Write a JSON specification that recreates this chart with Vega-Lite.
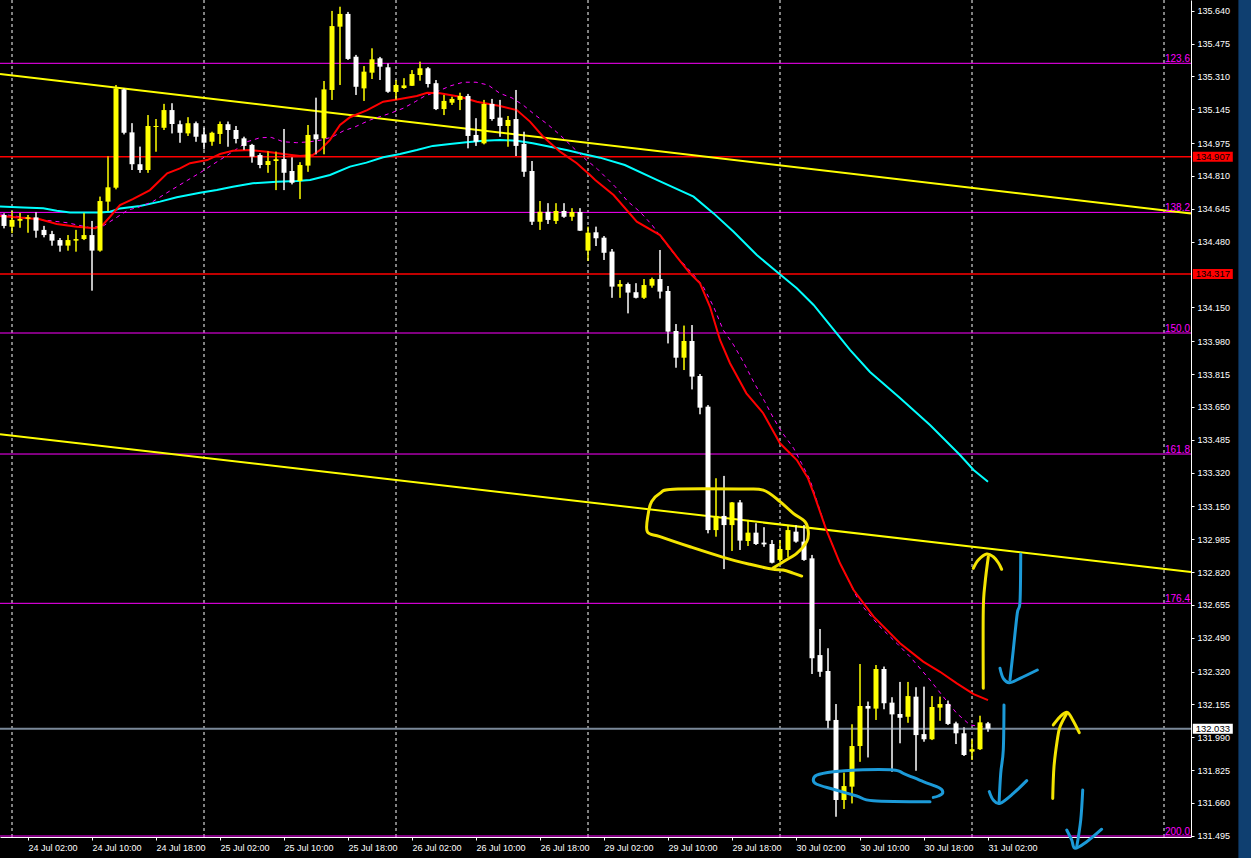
{
"$schema": "https://vega.github.io/schema/vega-lite/v6.json",
"width": 1191, "height": 837,
"autosize": {"type": "none"},
"padding": {"left": 0, "top": 0, "right": 60, "bottom": 21},
"background": "#000000",
"config": {"view": {"stroke": null},
 "axis": {"grid": false, "titleOpacity": 0, "titlePadding": 100, "labelOverlap": false, "labelBound": false, "labelFlush": false, "labelFont": "Liberation Sans", "labelFontSize": 9, "labelColor": "#ffffff", "domainColor": "#ffffff", "tickColor": "#ffffff"}},
"datasets": {
"seps": [{"i":0},{"i":24},{"i":48},{"i":72},{"i":96},{"i":120},{"i":144}],
"hl": [{"p":135.376,"k":"fib","t":"123.6"},{"p":134.627,"k":"fib","t":"138.2"},{"p":134.021,"k":"fib","t":"150.0"},{"p":133.413,"k":"fib","t":"161.8"},{"p":132.663,"k":"fib","t":"176.4"},{"p":131.494,"k":"fib","t":"200.0"},{"p":134.907,"k":"red","t":"134.907"},{"p":134.317,"k":"red","t":"134.317"},{"p":132.033,"k":"bid","t":"132.033"}],
"trends": [{"g":"up","i":-1.5,"p":135.322},{"g":"up","i":147.375,"p":134.621},{"g":"lo","i":-1.5,"p":133.513},{"g":"lo","i":147.375,"p":132.820}],
"candles": [
{"i":-1,"o":134.614,"h":134.622,"l":134.547,"c":134.559},
{"i":0,"o":134.555,"h":134.634,"l":134.523,"c":134.589},
{"i":1,"o":134.585,"h":134.624,"l":134.550,"c":134.594},
{"i":2,"o":134.595,"h":134.614,"l":134.525,"c":134.602},
{"i":3,"o":134.602,"h":134.629,"l":134.500,"c":134.535},
{"i":4,"o":134.539,"h":134.559,"l":134.502,"c":134.513},
{"i":5,"o":134.518,"h":134.534,"l":134.460,"c":134.485},
{"i":6,"o":134.488,"h":134.498,"l":134.430,"c":134.460},
{"i":7,"o":134.460,"h":134.513,"l":134.435,"c":134.488},
{"i":8,"o":134.485,"h":134.539,"l":134.430,"c":134.493},
{"i":9,"o":134.493,"h":134.625,"l":134.488,"c":134.513},
{"i":10,"o":134.513,"h":134.584,"l":134.234,"c":134.435},
{"i":11,"o":134.435,"h":134.706,"l":134.430,"c":134.684},
{"i":12,"o":134.681,"h":134.910,"l":134.634,"c":134.753},
{"i":13,"o":134.751,"h":135.267,"l":134.743,"c":135.250},
{"i":14,"o":135.245,"h":135.250,"l":135.019,"c":135.027},
{"i":15,"o":135.029,"h":135.075,"l":134.840,"c":134.869},
{"i":16,"o":134.869,"h":134.957,"l":134.826,"c":134.840},
{"i":17,"o":134.840,"h":135.116,"l":134.826,"c":135.061},
{"i":18,"o":135.056,"h":135.096,"l":134.932,"c":135.061},
{"i":19,"o":135.052,"h":135.172,"l":135.041,"c":135.141},
{"i":20,"o":135.141,"h":135.175,"l":135.024,"c":135.071},
{"i":21,"o":135.070,"h":135.088,"l":134.977,"c":135.027},
{"i":22,"o":135.024,"h":135.105,"l":135.011,"c":135.075},
{"i":23,"o":135.075,"h":135.083,"l":134.982,"c":135.007},
{"i":24,"o":135.019,"h":135.052,"l":134.944,"c":134.977},
{"i":25,"o":134.982,"h":135.032,"l":134.962,"c":135.027},
{"i":26,"o":135.021,"h":135.083,"l":134.971,"c":135.071},
{"i":27,"o":135.070,"h":135.083,"l":134.957,"c":135.041},
{"i":28,"o":135.041,"h":135.061,"l":134.974,"c":134.996},
{"i":29,"o":134.999,"h":135.007,"l":134.940,"c":134.961},
{"i":30,"o":134.966,"h":134.971,"l":134.877,"c":134.907},
{"i":31,"o":134.915,"h":134.924,"l":134.849,"c":134.865},
{"i":32,"o":134.865,"h":134.935,"l":134.826,"c":134.885},
{"i":33,"o":134.885,"h":134.932,"l":134.739,"c":134.894},
{"i":34,"o":134.895,"h":135.046,"l":134.739,"c":134.826},
{"i":35,"o":134.835,"h":134.904,"l":134.768,"c":134.776},
{"i":36,"o":134.785,"h":134.879,"l":134.694,"c":134.865},
{"i":37,"o":134.862,"h":135.066,"l":134.831,"c":135.016},
{"i":38,"o":135.019,"h":135.203,"l":134.919,"c":134.994},
{"i":39,"o":134.999,"h":135.287,"l":134.919,"c":135.245},
{"i":40,"o":135.242,"h":135.639,"l":135.192,"c":135.563},
{"i":41,"o":135.560,"h":135.660,"l":135.267,"c":135.624},
{"i":42,"o":135.624,"h":135.634,"l":135.393,"c":135.398},
{"i":43,"o":135.409,"h":135.418,"l":135.217,"c":135.258},
{"i":44,"o":135.250,"h":135.362,"l":135.187,"c":135.334},
{"i":45,"o":135.329,"h":135.451,"l":135.297,"c":135.396},
{"i":46,"o":135.401,"h":135.408,"l":135.292,"c":135.359},
{"i":47,"o":135.356,"h":135.376,"l":135.228,"c":135.233},
{"i":48,"o":135.232,"h":135.292,"l":135.192,"c":135.267},
{"i":49,"o":135.252,"h":135.301,"l":135.248,"c":135.265},
{"i":50,"o":135.263,"h":135.342,"l":135.262,"c":135.322},
{"i":51,"o":135.317,"h":135.384,"l":135.289,"c":135.351},
{"i":52,"o":135.351,"h":135.357,"l":135.255,"c":135.272},
{"i":53,"o":135.276,"h":135.292,"l":135.141,"c":135.146},
{"i":54,"o":135.146,"h":135.217,"l":135.116,"c":135.187},
{"i":55,"o":135.178,"h":135.208,"l":135.167,"c":135.197},
{"i":56,"o":135.192,"h":135.228,"l":135.141,"c":135.212},
{"i":57,"o":135.212,"h":135.222,"l":134.949,"c":135.011},
{"i":58,"o":135.016,"h":135.100,"l":134.961,"c":134.982},
{"i":59,"o":134.974,"h":135.192,"l":134.969,"c":135.172},
{"i":60,"o":135.172,"h":135.197,"l":135.088,"c":135.096},
{"i":61,"o":135.103,"h":135.192,"l":135.007,"c":135.061},
{"i":62,"o":135.061,"h":135.111,"l":134.957,"c":135.091},
{"i":63,"o":135.096,"h":135.242,"l":134.910,"c":134.961},
{"i":64,"o":134.971,"h":135.032,"l":134.806,"c":134.831},
{"i":65,"o":134.835,"h":134.885,"l":134.564,"c":134.580},
{"i":66,"o":134.580,"h":134.684,"l":134.539,"c":134.630},
{"i":67,"o":134.630,"h":134.673,"l":134.569,"c":134.589},
{"i":68,"o":134.584,"h":134.673,"l":134.569,"c":134.634},
{"i":69,"o":134.634,"h":134.673,"l":134.600,"c":134.605},
{"i":70,"o":134.605,"h":134.648,"l":134.585,"c":134.629},
{"i":71,"o":134.629,"h":134.648,"l":134.534,"c":134.535},
{"i":72,"o":134.435,"h":134.555,"l":134.383,"c":134.525},
{"i":73,"o":134.527,"h":134.555,"l":134.458,"c":134.497},
{"i":74,"o":134.500,"h":134.508,"l":134.388,"c":134.424},
{"i":75,"o":134.430,"h":134.443,"l":134.198,"c":134.254},
{"i":76,"o":134.254,"h":134.287,"l":134.198,"c":134.267},
{"i":77,"o":134.267,"h":134.274,"l":134.120,"c":134.224},
{"i":78,"o":134.226,"h":134.271,"l":134.195,"c":134.198},
{"i":79,"o":134.198,"h":134.292,"l":134.192,"c":134.262},
{"i":80,"o":134.259,"h":134.299,"l":134.249,"c":134.292},
{"i":81,"o":134.292,"h":134.438,"l":134.195,"c":134.229},
{"i":82,"o":134.232,"h":134.257,"l":133.969,"c":134.028},
{"i":83,"o":134.031,"h":134.066,"l":133.847,"c":133.897},
{"i":84,"o":133.897,"h":134.058,"l":133.835,"c":133.981},
{"i":85,"o":133.981,"h":134.061,"l":133.738,"c":133.802},
{"i":86,"o":133.805,"h":133.815,"l":133.613,"c":133.646},
{"i":87,"o":133.651,"h":133.659,"l":133.015,"c":133.031},
{"i":88,"o":133.031,"h":133.291,"l":132.998,"c":133.102},
{"i":89,"o":133.102,"h":133.303,"l":132.835,"c":133.056},
{"i":90,"o":133.056,"h":133.172,"l":132.926,"c":133.170},
{"i":91,"o":133.170,"h":133.182,"l":132.931,"c":132.978},
{"i":92,"o":132.976,"h":133.082,"l":132.951,"c":133.018},
{"i":93,"o":133.018,"h":133.065,"l":132.956,"c":132.961},
{"i":94,"o":132.968,"h":133.045,"l":132.947,"c":132.959},
{"i":95,"o":132.961,"h":132.981,"l":132.864,"c":132.867},
{"i":96,"o":132.881,"h":132.981,"l":132.872,"c":132.936},
{"i":97,"o":132.931,"h":133.056,"l":132.894,"c":133.031},
{"i":98,"o":133.023,"h":133.056,"l":132.968,"c":132.973},
{"i":99,"o":132.973,"h":133.056,"l":132.877,"c":132.881},
{"i":100,"o":132.889,"h":132.906,"l":132.308,"c":132.387},
{"i":101,"o":132.403,"h":132.534,"l":132.294,"c":132.319},
{"i":102,"o":132.323,"h":132.437,"l":132.035,"c":132.073},
{"i":103,"o":132.077,"h":132.157,"l":131.591,"c":131.675},
{"i":104,"o":131.675,"h":131.812,"l":131.630,"c":131.745},
{"i":105,"o":131.742,"h":132.055,"l":131.658,"c":131.946},
{"i":106,"o":131.946,"h":132.358,"l":131.867,"c":132.147},
{"i":107,"o":132.147,"h":132.169,"l":131.889,"c":132.134},
{"i":108,"o":132.134,"h":132.353,"l":132.077,"c":132.333},
{"i":109,"o":132.333,"h":132.345,"l":132.131,"c":132.161},
{"i":110,"o":132.164,"h":132.191,"l":131.817,"c":132.105},
{"i":111,"o":132.107,"h":132.268,"l":131.960,"c":132.088},
{"i":112,"o":132.093,"h":132.268,"l":132.063,"c":132.197},
{"i":113,"o":132.194,"h":132.241,"l":131.822,"c":132.001},
{"i":114,"o":132.006,"h":132.244,"l":131.968,"c":131.980},
{"i":115,"o":131.980,"h":132.197,"l":131.976,"c":132.142},
{"i":116,"o":132.139,"h":132.194,"l":132.073,"c":132.157},
{"i":117,"o":132.157,"h":132.174,"l":132.052,"c":132.057},
{"i":118,"o":132.060,"h":132.068,"l":131.956,"c":132.010},
{"i":119,"o":132.010,"h":132.040,"l":131.896,"c":131.901},
{"i":120,"o":131.918,"h":131.980,"l":131.876,"c":131.930},
{"i":121,"o":131.930,"h":132.098,"l":131.926,"c":132.065},
{"i":122,"o":132.060,"h":132.067,"l":132.018,"c":132.033}],
"red": [{"i":-1.5,"p":134.609},{"i":3.5,"p":134.592},{"i":5.6,"p":134.569},{"i":8.1,"p":134.555},{"i":10.4,"p":134.547},{"i":11.4,"p":134.567},{"i":12.25,"p":134.605},{"i":13.5,"p":134.664},{"i":15.1,"p":134.694},{"i":17.25,"p":134.739},{"i":19.4,"p":134.823},{"i":21,"p":134.848},{"i":22.25,"p":134.874},{"i":24.4,"p":134.890},{"i":26,"p":134.920},{"i":27.6,"p":134.937},{"i":29.75,"p":134.940},{"i":31.9,"p":134.932},{"i":33.9,"p":134.920},{"i":36,"p":134.910},{"i":37.6,"p":134.915},{"i":38.5,"p":134.940},{"i":39.75,"p":134.991},{"i":41,"p":135.066},{"i":42.25,"p":135.105},{"i":44.4,"p":135.141},{"i":46.4,"p":135.183},{"i":48.5,"p":135.197},{"i":50.6,"p":135.212},{"i":51.9,"p":135.228},{"i":53.5,"p":135.225},{"i":56,"p":135.208},{"i":58.1,"p":135.183},{"i":61,"p":135.161},{"i":63.1,"p":135.141},{"i":64.75,"p":135.083},{"i":66.4,"p":135.007},{"i":68.5,"p":134.932},{"i":70.6,"p":134.874},{"i":72.25,"p":134.815},{"i":72.9,"p":134.790},{"i":75.2,"p":134.714},{"i":78.1,"p":134.580},{"i":81,"p":134.513},{"i":83.1,"p":134.404},{"i":84.75,"p":134.321},{"i":86,"p":134.271},{"i":87.25,"p":134.153},{"i":88.5,"p":133.986},{"i":89.75,"p":133.869},{"i":91.8,"p":133.718},{"i":93.9,"p":133.618},{"i":96,"p":133.467},{"i":98.1,"p":133.383},{"i":99.5,"p":133.291},{"i":100.2,"p":133.216},{"i":101.8,"p":133.031},{"i":103.5,"p":132.864},{"i":105.2,"p":132.730},{"i":107.7,"p":132.596},{"i":111,"p":132.462},{"i":113.9,"p":132.370},{"i":116,"p":132.319},{"i":118.1,"p":132.261},{"i":120.2,"p":132.207},{"i":122,"p":132.177}],
"mag": [{"i":-1.5,"p":134.619},{"i":3.9,"p":134.589},{"i":6.9,"p":134.575},{"i":9.75,"p":134.550},{"i":11.4,"p":134.559},{"i":12.9,"p":134.597},{"i":14.5,"p":134.639},{"i":15.75,"p":134.652},{"i":17.6,"p":134.681},{"i":18.9,"p":134.714},{"i":20.6,"p":134.756},{"i":22,"p":134.790},{"i":23.5,"p":134.826},{"i":25,"p":134.865},{"i":27.6,"p":134.932},{"i":29.4,"p":134.982},{"i":31,"p":135.002},{"i":32.4,"p":135.004},{"i":33.9,"p":134.982},{"i":35.6,"p":134.977},{"i":37.25,"p":134.982},{"i":38.75,"p":134.991},{"i":40.1,"p":135.007},{"i":41.4,"p":135.036},{"i":42.9,"p":135.057},{"i":44.75,"p":135.091},{"i":46,"p":135.108},{"i":47.5,"p":135.128},{"i":48.9,"p":135.150},{"i":50.4,"p":135.183},{"i":51.6,"p":135.212},{"i":53.1,"p":135.233},{"i":54.75,"p":135.262},{"i":56.4,"p":135.281},{"i":58,"p":135.281},{"i":59.5,"p":135.267},{"i":61,"p":135.225},{"i":62.5,"p":135.202},{"i":63.9,"p":135.166},{"i":65.4,"p":135.116},{"i":66.9,"p":135.071},{"i":68.5,"p":135.016},{"i":70.1,"p":134.954},{"i":71.8,"p":134.890},{"i":73.1,"p":134.848},{"i":75.4,"p":134.756},{"i":77,"p":134.681},{"i":78.5,"p":134.630},{"i":80,"p":134.564},{"i":81.4,"p":134.488},{"i":82.7,"p":134.421},{"i":83.9,"p":134.371},{"i":85.4,"p":134.304},{"i":86.4,"p":134.254},{"i":87.7,"p":134.153},{"i":88.9,"p":134.036},{"i":90.2,"p":133.961},{"i":91.4,"p":133.877},{"i":92.7,"p":133.776},{"i":94.1,"p":133.676},{"i":95.2,"p":133.592},{"i":96.2,"p":133.525},{"i":97.7,"p":133.442},{"i":98.7,"p":133.366},{"i":99.75,"p":133.283},{"i":101.8,"p":133.031},{"i":103.5,"p":132.864},{"i":106,"p":132.663},{"i":108.5,"p":132.545},{"i":110.6,"p":132.462},{"i":112.25,"p":132.395},{"i":114.75,"p":132.278},{"i":116.4,"p":132.194},{"i":118.1,"p":132.110},{"i":119.75,"p":132.052},{"i":121.6,"p":132.041}],
"cyan": [{"i":-1.5,"p":134.656},{"i":1.4,"p":134.651},{"i":3.9,"p":134.648},{"i":5.6,"p":134.635},{"i":7.25,"p":134.627},{"i":11,"p":134.627},{"i":12.25,"p":134.630},{"i":13.5,"p":134.647},{"i":16,"p":134.659},{"i":18.5,"p":134.681},{"i":20.6,"p":134.703},{"i":23.5,"p":134.726},{"i":25.6,"p":134.739},{"i":27.6,"p":134.756},{"i":30.1,"p":134.773},{"i":33.1,"p":134.781},{"i":35.6,"p":134.785},{"i":37.25,"p":134.790},{"i":39.75,"p":134.815},{"i":42.25,"p":134.857},{"i":44.3,"p":134.877},{"i":46.4,"p":134.904},{"i":48.5,"p":134.920},{"i":50.6,"p":134.940},{"i":52.6,"p":134.961},{"i":54.75,"p":134.971},{"i":56.8,"p":134.979},{"i":58.9,"p":134.987},{"i":61,"p":134.991},{"i":63.1,"p":134.987},{"i":65.1,"p":134.974},{"i":67.25,"p":134.957},{"i":69.3,"p":134.940},{"i":71.4,"p":134.920},{"i":73.5,"p":134.902},{"i":76.6,"p":134.865},{"i":80.6,"p":134.790},{"i":85.2,"p":134.706},{"i":87.7,"p":134.622},{"i":90.2,"p":134.530},{"i":93.1,"p":134.413},{"i":95.6,"p":134.329},{"i":98.1,"p":134.246},{"i":100.2,"p":134.162},{"i":102.25,"p":134.061},{"i":104.75,"p":133.936},{"i":107.25,"p":133.825},{"i":111,"p":133.694},{"i":114.75,"p":133.559},{"i":118.5,"p":133.408},{"i":120.2,"p":133.333},{"i":122,"p":133.274}],
"strokes": [
{"g":"loop","c":"y","k":1,"i":98.71,"p":132.800},{"g":"loop","c":"y","k":2,"i":97.63,"p":132.815},{"g":"loop","c":"y","k":3,"i":96.38,"p":132.830},{"g":"loop","c":"y","k":4,"i":94.96,"p":132.835},{"g":"loop","c":"y","k":5,"i":92.25,"p":132.859},{"g":"loop","c":"y","k":6,"i":88.91,"p":132.894},{"g":"loop","c":"y","k":7,"i":84.75,"p":132.947},{"g":"loop","c":"y","k":8,"i":81,"p":132.998},{"g":"loop","c":"y","k":9,"i":79.41,"p":133.023},{"g":"loop","c":"y","k":10,"i":79.54,"p":133.115},{"g":"loop","c":"y","k":11,"i":79.96,"p":133.174},{"g":"loop","c":"y","k":12,"i":81,"p":133.216},{"g":"loop","c":"y","k":13,"i":82.66,"p":133.236},{"g":"loop","c":"y","k":14,"i":91,"p":133.237},{"g":"loop","c":"y","k":15,"i":93.91,"p":133.232},{"g":"loop","c":"y","k":16,"i":96,"p":133.174},{"g":"loop","c":"y","k":17,"i":97.66,"p":133.115},{"g":"loop","c":"y","k":18,"i":99.13,"p":133.073},{"g":"loop","c":"y","k":19,"i":99.54,"p":133.023},{"g":"loop","c":"y","k":20,"i":99.34,"p":132.973},{"g":"loop","c":"y","k":21,"i":98.09,"p":132.914},{"g":"loop","c":"y","k":22,"i":96.41,"p":132.872},{"g":"loop","c":"y","k":23,"i":95.13,"p":132.840},
{"g":"oval","c":"b","k":1,"i":114.75,"p":131.666},{"g":"oval","c":"b","k":2,"i":107.66,"p":131.671},{"g":"oval","c":"b","k":3,"i":105.59,"p":131.695},{"g":"oval","c":"b","k":4,"i":102.66,"p":131.729},{"g":"oval","c":"b","k":5,"i":100.59,"p":131.754},{"g":"oval","c":"b","k":6,"i":100.16,"p":131.775},{"g":"oval","c":"b","k":7,"i":100.59,"p":131.800},{"g":"oval","c":"b","k":8,"i":102.66,"p":131.817},{"g":"oval","c":"b","k":9,"i":105.59,"p":131.826},{"g":"oval","c":"b","k":10,"i":110.16,"p":131.826},{"g":"oval","c":"b","k":11,"i":111.41,"p":131.809},{"g":"oval","c":"b","k":12,"i":113.91,"p":131.767},{"g":"oval","c":"b","k":13,"i":116,"p":131.734},{"g":"oval","c":"b","k":14,"i":116.34,"p":131.711},{"g":"oval","c":"b","k":15,"i":115.79,"p":131.695},{"g":"oval","c":"b","k":16,"i":115.16,"p":131.688},
{"g":"a1s","c":"y","k":1,"i":121.41,"p":132.236},{"g":"a1s","c":"y","k":2,"i":121.41,"p":132.629},{"g":"a1s","c":"y","k":3,"i":121.63,"p":132.764},{"g":"a1s","c":"y","k":4,"i":122.04,"p":132.897},
{"g":"a1h","c":"y","k":1,"i":120.16,"p":132.839},{"g":"a1h","c":"y","k":2,"i":120.79,"p":132.881},{"g":"a1h","c":"y","k":3,"i":121.84,"p":132.911},{"g":"a1h","c":"y","k":4,"i":122.66,"p":132.897},{"g":"a1h","c":"y","k":5,"i":123.29,"p":132.867},{"g":"a1h","c":"y","k":6,"i":123.71,"p":132.834},
{"g":"b1s","c":"b","k":1,"i":126.09,"p":132.911},{"g":"b1s","c":"b","k":2,"i":126,"p":132.671},{"g":"b1s","c":"b","k":3,"i":125.66,"p":132.613},{"g":"b1s","c":"b","k":4,"i":125.16,"p":132.428},{"g":"b1s","c":"b","k":5,"i":124.75,"p":132.278},
{"g":"b1h","c":"b","k":1,"i":123.5,"p":132.337},{"g":"b1h","c":"b","k":2,"i":123.91,"p":132.286},{"g":"b1h","c":"b","k":3,"i":124.66,"p":132.264},{"g":"b1h","c":"b","k":4,"i":126,"p":132.286},{"g":"b1h","c":"b","k":5,"i":128.16,"p":132.328},
{"g":"b2s","c":"b","k":1,"i":124,"p":132.152},{"g":"b2s","c":"b","k":2,"i":123.91,"p":131.926},{"g":"b2s","c":"b","k":3,"i":123.59,"p":131.809},{"g":"b2s","c":"b","k":4,"i":123.38,"p":131.658},
{"g":"b2h","c":"b","k":1,"i":122.16,"p":131.717},{"g":"b2h","c":"b","k":2,"i":122.66,"p":131.675},{"g":"b2h","c":"b","k":3,"i":123.5,"p":131.658},{"g":"b2h","c":"b","k":4,"i":125.16,"p":131.708},{"g":"b2h","c":"b","k":5,"i":126.84,"p":131.772},
{"g":"y2s","c":"y","k":1,"i":130.09,"p":131.683},{"g":"y2s","c":"y","k":2,"i":130.25,"p":131.842},{"g":"y2s","c":"y","k":3,"i":130.66,"p":131.976},{"g":"y2s","c":"y","k":4,"i":131,"p":132.043},{"g":"y2s","c":"y","k":5,"i":131.84,"p":132.110},
{"g":"y2h","c":"y","k":1,"i":130.16,"p":132.052},{"g":"y2h","c":"y","k":2,"i":131,"p":132.093},{"g":"y2h","c":"y","k":3,"i":131.91,"p":132.115},{"g":"y2h","c":"y","k":4,"i":132.59,"p":132.077},{"g":"y2h","c":"y","k":5,"i":133.41,"p":132.013},
{"g":"b3s","c":"b","k":1,"i":133.84,"p":131.725},{"g":"b3s","c":"b","k":2,"i":133.59,"p":131.574},{"g":"b3s","c":"b","k":3,"i":133.09,"p":131.440},
{"g":"b3h","c":"b","k":1,"i":131.84,"p":131.524},{"g":"b3h","c":"b","k":2,"i":132.46,"p":131.474},{"g":"b3h","c":"b","k":3,"i":132.88,"p":131.432},{"g":"b3h","c":"b","k":4,"i":134.34,"p":131.465},{"g":"b3h","c":"b","k":5,"i":136.21,"p":131.528}]
},
"layer": [
{"data": {"name": "candles"},
 "mark": {"type": "rule", "strokeWidth": 1},
 "encoding": {
  "x": {"field": "i", "type": "quantitative", "scale": {"domain": [-1.5, 147.375], "nice": false, "zero": false, "padding": 0},
   "axis": {"orient": "bottom", "title": null, "grid": false, "tickCount": 40, "values": [2,10,18,26,34,42,50,58,66,74,82,90,98,106,114,122],
    "labelExpr": "['24 Jul 02:00','24 Jul 10:00','24 Jul 18:00','25 Jul 02:00','25 Jul 10:00','25 Jul 18:00','26 Jul 02:00','26 Jul 10:00','26 Jul 18:00','29 Jul 02:00','29 Jul 10:00','29 Jul 18:00','30 Jul 02:00','30 Jul 10:00','30 Jul 18:00','31 Jul 02:00'][(datum.value-2)/8]",
    "labelAlign": "left", "labelBaseline": "top", "labelPadding": 3, "tickSize": 3, "labelOverlap": false, "labelBound": false, "labelFlush": false,
    "labelFont": "Liberation Sans", "labelFontSize": 9, "labelColor": "#ffffff", "domainColor": "#ffffff", "tickColor": "#ffffff", "domainWidth": 1, "tickWidth": 1}},
  "y": {"field": "l", "type": "quantitative", "scale": {"domain": [131.489, 135.694], "nice": false, "zero": false, "padding": 0},
   "axis": {"orient": "right", "title": null, "grid": false, "tickCount": 40, "values": [135.640,135.475,135.310,135.145,134.975,134.810,134.645,134.480,134.150,133.980,133.815,133.650,133.485,133.320,133.150,132.985,132.820,132.655,132.490,132.320,132.155,131.990,131.825,131.660,131.495],
    "format": ".3f", "tickSize": 3, "labelPadding": 3, "labelOverlap": false, "labelBound": false, "labelFlush": false,
    "labelFont": "Liberation Sans", "labelFontSize": 9, "labelColor": "#ffffff", "domainColor": "#ffffff", "tickColor": "#ffffff", "domainWidth": 1, "tickWidth": 1}},
  "y2": {"field": "h"},
  "color": {"condition": {"test": "datum.c >= datum.o", "value": "#ffff00"}, "value": "#ffffff"}}},
{"data": {"values": [{}]},
 "mark": {"type": "rect", "color": "#0f3f70"},
 "encoding": {
  "x": {"datum": 153.3, "type": "quantitative"},
  "x2": {"datum": 160},
  "y": {"datum": 136.2, "type": "quantitative"},
  "y2": {"datum": 131.0}}},
{"data": {"name": "seps"},
 "mark": {"type": "rule", "color": "#ffffff", "strokeDash": [3, 3], "strokeWidth": 1},
 "encoding": {"x": {"field": "i", "type": "quantitative"}}},
{"data": {"name": "hl"},
 "mark": {"type": "rule"},
 "encoding": {
  "y": {"field": "p", "type": "quantitative"},
  "color": {"field": "k", "type": "nominal", "scale": {"domain": ["fib", "red", "bid"], "range": ["#ff00ff", "#ff0000", "#7a8899"]}, "legend": null},
  "strokeWidth": {"field": "k", "type": "nominal", "scale": {"domain": ["fib", "red", "bid"], "range": [1, 2, 1]}, "legend": null}}},
{"data": {"name": "trends"},
 "mark": {"type": "line", "color": "#ffff00", "strokeWidth": 2},
 "encoding": {
  "x": {"field": "i", "type": "quantitative"},
  "y": {"field": "p", "type": "quantitative"},
  "detail": {"field": "g"}}},
{"data": {"name": "cyan"},
 "mark": {"type": "line", "color": "#00ffff", "strokeWidth": 2},
 "encoding": {"x": {"field": "i", "type": "quantitative"}, "y": {"field": "p", "type": "quantitative"}}},
{"data": {"name": "mag"},
 "mark": {"type": "line", "color": "#ff00ff", "strokeWidth": 1, "strokeDash": [4, 4]},
 "encoding": {"x": {"field": "i", "type": "quantitative"}, "y": {"field": "p", "type": "quantitative"}}},
{"data": {"name": "red"},
 "mark": {"type": "line", "color": "#ff0000", "strokeWidth": 2},
 "encoding": {"x": {"field": "i", "type": "quantitative"}, "y": {"field": "p", "type": "quantitative"}}},
{"data": {"name": "candles"},
 "mark": {"type": "rule", "strokeWidth": 1},
 "encoding": {
  "x": {"field": "i", "type": "quantitative"},
  "y": {"field": "l", "type": "quantitative"},
  "y2": {"field": "h"},
  "color": {"condition": {"test": "datum.c >= datum.o", "value": "#ffff00"}, "value": "#ffffff"}}},
{"data": {"name": "candles"},
 "mark": {"type": "bar", "size": 5},
 "encoding": {
  "x": {"field": "i", "type": "quantitative"},
  "y": {"field": "o", "type": "quantitative"},
  "y2": {"field": "c"},
  "color": {"condition": {"test": "datum.c >= datum.o", "value": "#ffff00"}, "value": "#ffffff"}}},
{"data": {"name": "strokes"},
 "mark": {"type": "line", "strokeWidth": 3, "strokeCap": "round", "strokeJoin": "round", "interpolate": "cardinal"},
 "encoding": {
  "x": {"field": "i", "type": "quantitative"},
  "y": {"field": "p", "type": "quantitative"},
  "detail": {"field": "g"},
  "order": {"field": "k", "type": "quantitative"},
  "color": {"field": "c", "type": "nominal", "scale": {"domain": ["y", "b"], "range": ["#f4e400", "#1c9ad8"]}, "legend": null}}},
{"data": {"name": "hl"},
 "transform": [{"filter": "datum.k == 'fib'"}],
 "mark": {"type": "text", "align": "right", "baseline": "alphabetic", "dy": -1.5, "font": "Liberation Sans", "fontSize": 10, "color": "#ff00ff"},
 "encoding": {
  "x": {"datum": 147.25, "type": "quantitative"},
  "y": {"field": "p", "type": "quantitative"},
  "text": {"field": "t"}}},
{"data": {"name": "hl"},
 "transform": [{"filter": "datum.k != 'fib'"}],
 "mark": {"type": "rect", "width": 40, "height": 10},
 "encoding": {
  "x": {"datum": 150.1, "type": "quantitative"},
  "y": {"field": "p", "type": "quantitative"},
  "color": {"field": "k", "type": "nominal", "scale": {"domain": ["red", "bid"], "range": ["#ff0000", "#ffffff"]}, "legend": null}}},
{"data": {"name": "hl"},
 "transform": [{"filter": "datum.k != 'fib'"}],
 "mark": {"type": "text", "align": "center", "baseline": "middle", "font": "Liberation Sans", "fontSize": 9.5, "color": "#000000"},
 "encoding": {
  "x": {"datum": 150.1, "type": "quantitative"},
  "y": {"field": "p", "type": "quantitative"},
  "text": {"field": "t"}}}
],
"resolve": {"scale": {"color": "independent", "strokeWidth": "independent"}}
}
